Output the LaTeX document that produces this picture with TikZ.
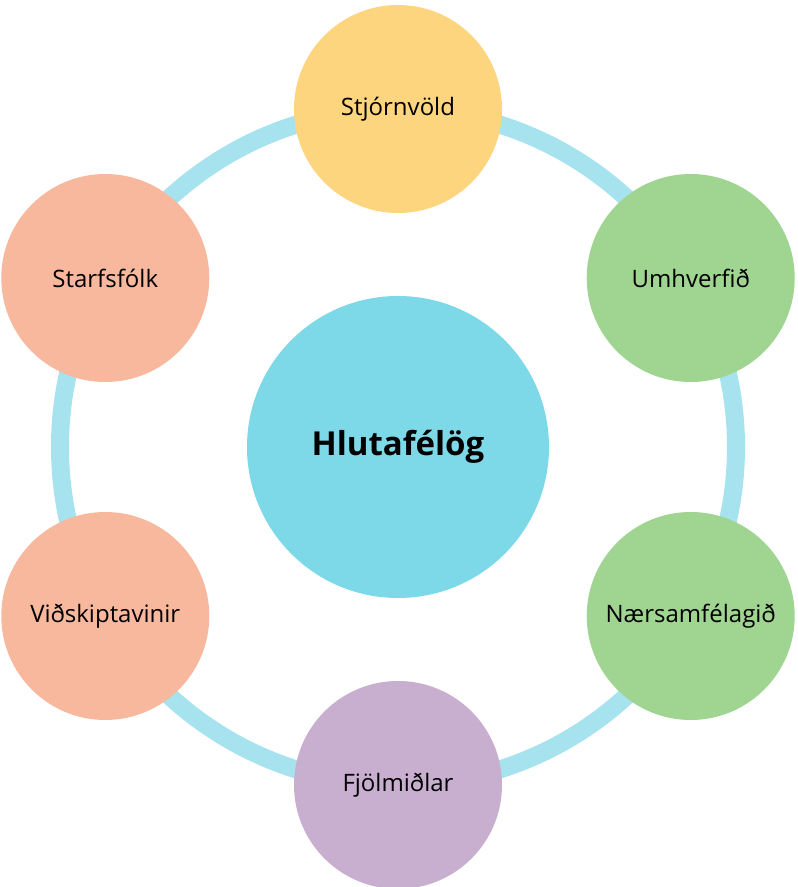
\documentclass[tikz,border=0pt]{standalone}
\usepackage{fontspec}
\setmainfont{Open Sans}
\definecolor{ringc}{HTML}{A6E3EE}
\definecolor{hubc}{HTML}{7DD8E8}
\definecolor{yel}{HTML}{FDD57E}
\definecolor{grn}{HTML}{9FD491}
\definecolor{pur}{HTML}{C8AFD0}
\definecolor{sal}{HTML}{F7B89E}
\begin{document}
\begin{tikzpicture}[x=1pt,y=1pt]
	\useasboundingbox (0,0) rectangle (798,887);
	\node (hub) [circle,fill=hubc,minimum size=302pt,font=\fontsize{33}{36}\selectfont\bfseries] at (398,440) {Hlutafélög};
	\draw [ringc,line width=18pt] (hub.center) circle (338);
	
	\begin{scope}[every node/.style={circle,minimum size=208pt,inner sep=0pt,font=\fontsize{24}{28}\selectfont}]
		\node (gov) [fill=yel] at ([shift={(90:338)}]hub.center) {Stjórnvöld};
		\node (env) [fill=grn] at ([shift={(30:338)}]hub.center) {Umhverfið};
		\node (soc) [fill=grn] at ([shift={(-30:338)}]hub.center) {Nærsamfélagið};
		\node (med) [fill=pur] at ([shift={(-90:338)}]hub.center) {Fjölmiðlar};
		\node (cus) [fill=sal] at ([shift={(210:338)}]hub.center) {Viðskiptavinir};
		\node (stf) [fill=sal] at ([shift={(150:338)}]hub.center) {Starfsfólk};
	\end{scope}
\end{tikzpicture}
\end{document}
